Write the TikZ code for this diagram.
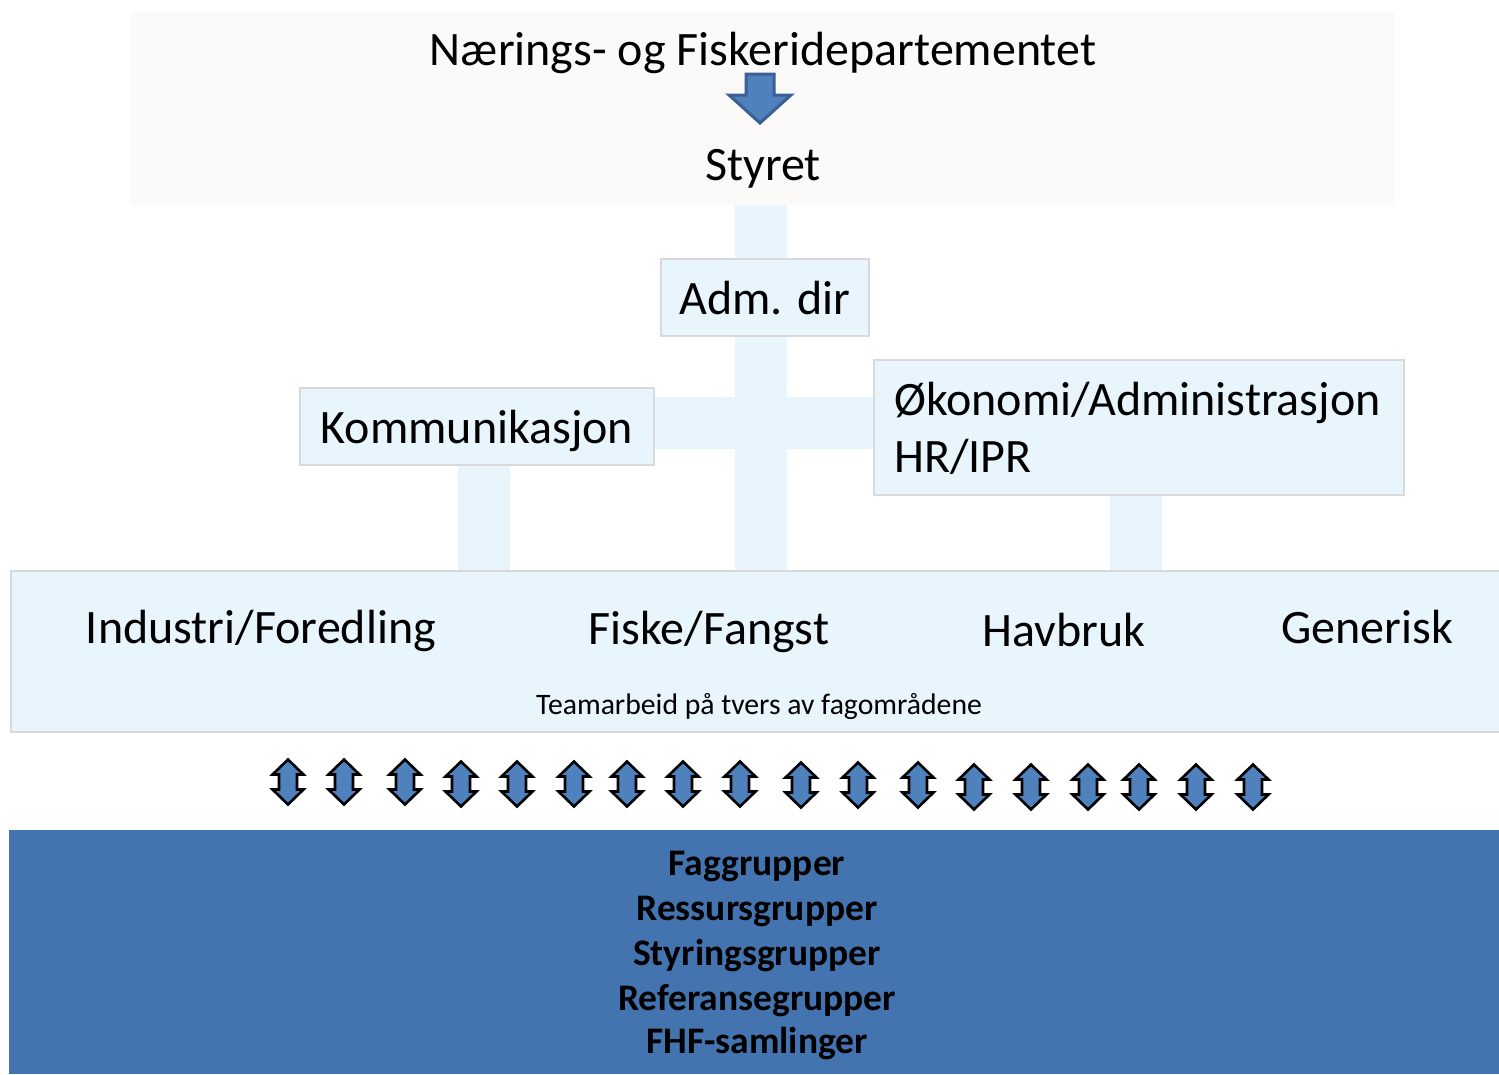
\documentclass[tikz,border=0pt]{standalone}
\usepackage{fontspec}
\setmainfont{Carlito}
\usetikzlibrary{backgrounds}
\definecolor{topfill}{HTML}{FBFAF8}
\definecolor{lblue}{HTML}{E8F5FD}
\definecolor{bgray}{HTML}{D9D9D9}
\definecolor{dblue}{HTML}{4474AF}
\definecolor{afill}{HTML}{4F81BD}
\definecolor{aline}{HTML}{3A6095}
\begin{document}
\begin{tikzpicture}[x=1pt,y=-1pt,
  bigfont/.style={font=\fontsize{48}{57}\selectfont},
  box/.style={draw=bgray, line width=2pt, fill=lblue, inner sep=0pt, bigfont},
  bar/.style={draw=lblue, line width=52pt},
  dbl/.style={draw=black, line width=2.6pt, fill=afill, line join=miter},
  lbl/.style={anchor=base, inner sep=0pt, bigfont},
  grplbl/.style={anchor=base, inner sep=0pt, font=\fontsize{37.5}{45}\bfseries\selectfont},
]
\useasboundingbox (0,0) rectangle (1499,1074);
% top area
\node[fill=topfill, minimum width=1265pt, minimum height=193pt, inner sep=0pt] (top) at (762.5,108.5) {};
\node[lbl] (title) at (763,65) {Nærings- og Fiskeridepartementet};
\node[lbl] (styret) at (763,180) {Styret};
\draw[line width=3pt, draw=aline, fill=afill, line join=miter]
  (746,74) -- (774,74) -- (774,95) -- (791,95) -- (760,123) -- (729,95) -- (746,95) -- cycle;
% boxes
\node[box, minimum width=208pt, minimum height=77pt, text height=33pt, text depth=0pt] (adm) at (765,297.5) {Adm. dir};
\node[box, minimum width=354pt, minimum height=77pt, text height=33pt, text depth=0pt] (kom) at (477,426.5) {Kommunikasjon};
\node[box, minimum width=530pt, minimum height=135pt] (oko) at (1139,427.5) {};
\node[lbl, anchor=base west] (oko1) at (894,415) {Økonomi/Administrasjon};
\node[lbl, anchor=base west] (oko2) at (894,472) {HR/IPR};
\node[box, minimum width=1490pt, minimum height=161pt] (fag) at (756,651.5) {};
\node[lbl] (ind) at (261,643) {Industri/Foredling};
\node[lbl] (fis) at (709,644) {Fiske/Fangst};
\node[lbl] (hav) at (1064,646) {Havbruk};
\node[lbl] (gen) at (1367,643) {Generisk};
\node[anchor=base, inner sep=0pt, font=\fontsize{29.7}{35}\selectfont] (team) at (759,714) {Teamarbeid på tvers av fagområdene};
% bottom
\node[fill=dblue, minimum width=1490pt, minimum height=244pt, inner sep=0pt] (grp) at (754,952) {};
\node[grplbl] (g1) at (757,875) {Faggrupper};
\node[grplbl] (g2) at (757,920) {Ressursgrupper};
\node[grplbl] (g3) at (757,965) {Styringsgrupper};
\node[grplbl] (g4) at (757,1010) {Referansegrupper};
\node[grplbl] (g5) at (757,1053) {FHF-samlinger};
% double arrows
\foreach \x/\y in {288/782,344/782,405/782,461/784,517/784,574/784,627/784,683/784,740/784,801/785,858/785,918/785,974/787,1031/787,1088/787,1139/787,1196/787,1253/787}{
  \draw[dbl] (\x,\y-22.5) -- ++(15.5,15) -- ++(-6.5,0) -- ++(0,15) -- ++(6.5,0) -- ++(-15.5,15)
    -- ++(-15.5,-15) -- ++(6.5,0) -- ++(0,-15) -- ++(-6.5,0) -- cycle;
}
% connector bars
\begin{pgfonlayer}{background}
\coordinate (cx) at (761,0);
\coordinate (hy) at (0,423);
\coordinate (kx) at (484,0);
\coordinate (ox) at (1135.5,0);
\draw[bar] (top.south -| cx) -- (fag.north -| cx);
\draw[bar] (kom.east |- hy) -- (oko.west |- hy);
\draw[bar] (kom.south -| kx) -- (fag.north -| kx);
\draw[bar] (oko.south -| ox) -- (fag.north -| ox);
\end{pgfonlayer}
\end{tikzpicture}
\end{document}
